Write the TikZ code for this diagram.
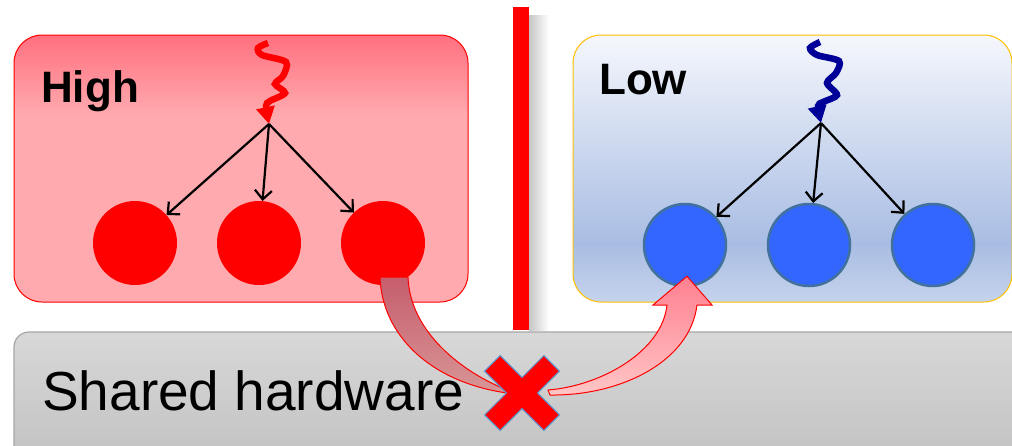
\documentclass[tikz,border=0pt]{standalone}
\usepackage{fontspec}
\setmainfont{Liberation Sans}
\usetikzlibrary{arrows.meta,calc}

\definecolor{highTop}{HTML}{FF7080}
\definecolor{highBot}{HTML}{FFAAAE}
\definecolor{lowTop}{HTML}{F5F7FC}
\definecolor{lowBot}{HTML}{A9BDE3}
\definecolor{lowEnd}{HTML}{C5D3EC}
\definecolor{lowEdge}{HTML}{FFC000}
\definecolor{hwTop}{HTML}{D8D8D8}
\definecolor{hwBot}{HTML}{C0C0C0}
\definecolor{hwEdge}{HTML}{A6A6A6}
\definecolor{ballBlue}{HTML}{3366FF}
\definecolor{ballEdge}{HTML}{41719C}
\definecolor{wiggleBlue}{HTML}{000099}
\definecolor{leakTop}{HTML}{C65D6D}
\definecolor{leakBot}{HTML}{D89696}
\definecolor{gainTop}{HTML}{FF8090}
\definecolor{gainBot}{HTML}{FFC6C6}
\definecolor{crossEdge}{HTML}{5B9BD5}

% box fills (path spans 25bp..75bp)
\pgfdeclareverticalshading{highfade}{100bp}{color(0bp)=(highBot); color(60bp)=(highBot); color(75bp)=(highTop); color(100bp)=(highTop)}
\pgfdeclareverticalshading{lowfade}{100bp}{color(0bp)=(lowEnd); color(25bp)=(lowEnd); color(36bp)=(lowBot); color(75bp)=(lowTop); color(100bp)=(lowTop)}

\begin{document}
\begin{tikzpicture}[x=1pt,y=-1pt,
  domainbox/.style={rounded corners=28pt, line width=1pt, minimum height=267pt, inner sep=0pt},
  hiball/.style={circle, fill=red, minimum size=84pt, inner sep=0pt},
  loball/.style={circle, fill=ballBlue, draw=ballEdge, line width=2.5pt, minimum size=82pt, inner sep=0pt},
  fanout/.style={-{Straight Barb[length=9pt,width=17pt]}, line width=2.2pt},
  squiggle/.style={line width=6.5pt, -{Triangle[length=17pt,width=18pt]}},
  title/.style={font=\bfseries\fontsize{44}{50}\selectfont, anchor=base west, inner sep=0pt}]
\useasboundingbox (0,0) rectangle (1012,445);

% security domains
\node[domainbox, draw=red, shading=highfade, minimum width=454pt] (high) at (241,168.5) {};
\node[domainbox, draw=lowEdge, shading=lowfade, minimum width=439pt] (low) at (792.5,168.5) {};
\node[title] (hightitle) at (41,102) {High};
\node[title] (lowtitle) at (599,94) {Low};

% partition bar
\shade[left color=gray!45, right color=white] (529,15) rectangle (549,330);
\fill[red] (513,7) rectangle (529,330);

% shared hardware
\node[rounded corners=15pt, draw=hwEdge, line width=1.2pt, top color=hwTop, bottom color=hwBot,
      minimum width=1030pt, minimum height=140pt] (hw) at (529,402) {};
\node[anchor=base west, inner sep=0pt, font=\fontsize{55}{60}\selectfont] (hwlabel) at (42,410) {Shared hardware};

% processes
\node[hiball] (h1) at (135,243) {};
\node[hiball] (h2) at (259,243) {};
\node[hiball] (h3) at (383,243) {};
\node[loball] (l1) at (685,245) {};
\node[loball] (l2) at (809,245) {};
\node[loball] (l3) at (933,245) {};

% inputs
\coordinate (hs) at (269,124);
\coordinate (ls) at (821,123);
\draw[squiggle, red] plot[smooth] coordinates {(268,43) (258,48) (262,55) (286,62) (283,76) (275,84) (285,93) (270,101) (266,106) (hs)};
\draw[squiggle, wiggleBlue] plot[smooth] coordinates {(820,42) (810,48) (817,55) (839,61) (836,73) (827,83) (837,95) (823,102) (818,106) (ls)};
\foreach \b in {h1,h2,h3} \draw[fanout] (hs) -- (\b);
\foreach \b in {l1,l2,l3} \draw[fanout] (ls) -- (\b);

% blocked flow
\node[inner sep=0pt, minimum size=2pt] (cross) at (522,393) {};
\draw[red, line width=1pt, top color=leakTop, bottom color=leakBot]
  ($(h3.south)+(-3,-8)$) .. controls (382,335) and (430,382) .. ($(cross)+(-15,0)$)
  -- ($(cross)+(-15,-3)$) .. controls (462,372) and (410,332) .. ($(h3.south)+(25,-8)$) -- cycle;
\draw[red, line width=1pt, top color=gainTop, bottom color=gainBot]
  ($(cross)+(26,-3)$) .. controls (600,386) and (662,352) .. (667,305) -- (653,305)
  -- ($(l1.south)+(2,-11)$) -- (712,305) -- (697,305)
  .. controls (690,362) and (620,396) .. ($(cross)+(28,2)$) -- cycle;
\begin{scope}[shift={(cross)}, rotate=45]
  \draw[fill=red, draw=crossEdge, line width=1pt]
    (-11,-42) -- (11,-42) -- (11,-11) -- (42,-11) -- (42,11) -- (11,11) -- (11,42)
    -- (-11,42) -- (-11,11) -- (-42,11) -- (-42,-11) -- (-11,-11) -- cycle;
\end{scope}

\end{tikzpicture}
\end{document}
